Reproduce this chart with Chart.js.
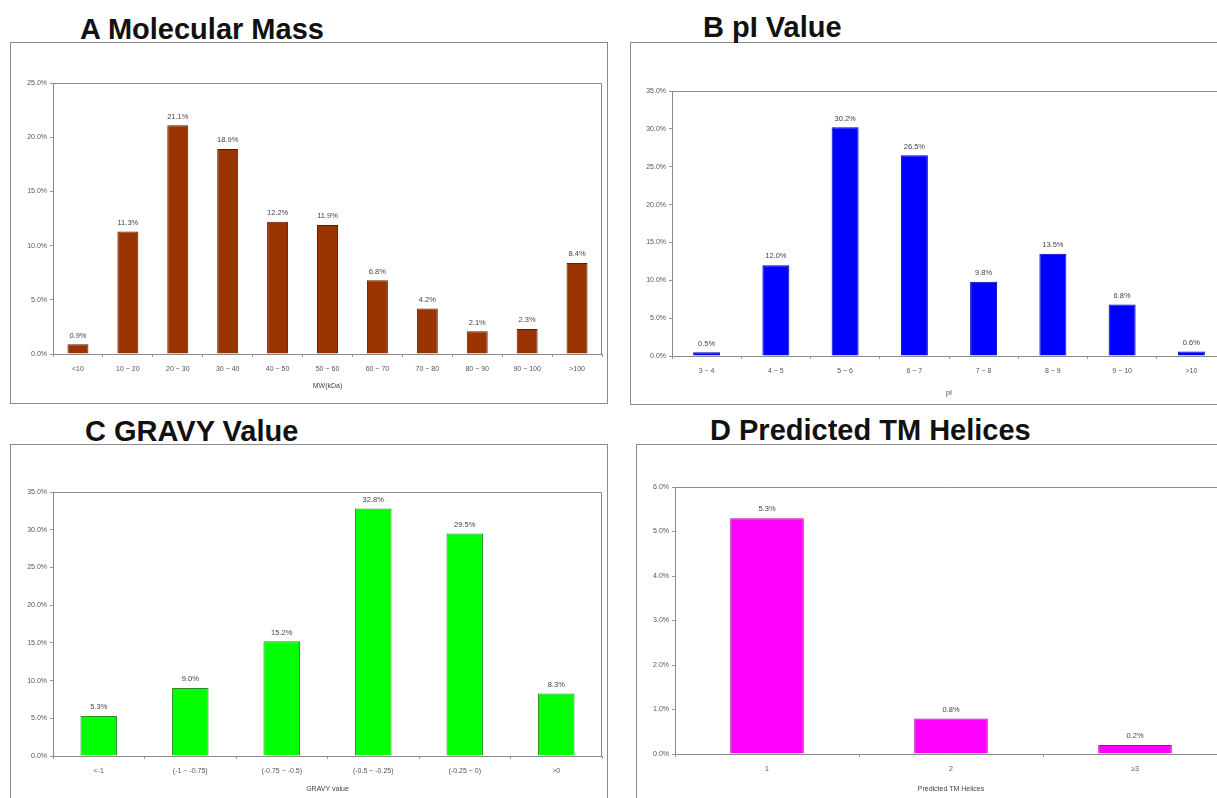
<!DOCTYPE html>
<html>
<head>
<meta charset="utf-8">
<script src="https://cdn.jsdelivr.net/npm/chart.js@4"></script>
<style>
  body { margin: 0; width: 1217px; height: 798px; overflow: hidden; background: #fff; position: relative; font-family: "Liberation Sans", Arial, sans-serif; }
  .box { position: absolute; border: 1px solid #8a8a8a; box-sizing: border-box; }
  .title { position: absolute; font-weight: bold; font-size: 29px; line-height: 30px; color: #111; white-space: nowrap; }
  .wrap { position: absolute; }
</style>
</head>
<body>

<div class="box" style="left:10px; top:42px; width:598px; height:362px;"></div>
<div class="box" style="left:630px; top:42px; width:640px; height:363px;"></div>
<div class="box" style="left:10px; top:444px; width:598px; height:400px;"></div>
<div class="box" style="left:636px; top:444px; width:640px; height:400px;"></div>

<div class="title" style="left:80px; top:14px;">A Molecular Mass</div>
<div class="title" style="left:703px; top:12px;">B pI Value</div>
<div class="title" style="left:85px; top:416px;">C GRAVY Value</div>
<div class="title" style="left:710px; top:415px;">D Predicted TM Helices</div>

<div class="wrap" id="wA"><canvas id="chartA"></canvas></div>
<div class="wrap" id="wB"><canvas id="chartB"></canvas></div>
<div class="wrap" id="wC"><canvas id="chartC"></canvas></div>
<div class="wrap" id="wD"><canvas id="chartD"></canvas></div>

<script>
// data
const massLabels = ["<10", "10 ~ 20", "20 ~ 30", "30 ~ 40", "40 ~ 50", "50 ~ 60", "60 ~ 70", "70 ~ 80", "80 ~ 90", "90 ~ 100", ">100"];
const massValues = [0.9, 11.3, 21.1, 18.9, 12.2, 11.9, 6.8, 4.2, 2.1, 2.3, 8.4];

const piLabels = ["3 ~ 4", "4 ~ 5", "5 ~ 6", "6 ~ 7", "7 ~ 8", "8 ~ 9", "9 ~ 10", ">10"];
const piValues = [0.5, 12.0, 30.2, 26.5, 9.8, 13.5, 6.8, 0.6];

const gravyLabels = ["<-1", "(-1 ~ -0.75)", "(-0.75 ~ -0.5)", "(-0.5 ~ -0.25)", "(-0.25 ~ 0)", ">0"];
const gravyValues = [5.3, 9.0, 15.2, 32.8, 29.5, 8.3];

const tmLabels = ["1", "2", "\u22653"];
const tmValues = [5.3, 0.8, 0.2];

// y axis ranges
const massAxis = [0, 25, 5];
const piAxis = [0, 35, 5];
const gravyAxis = [0, 35, 5];
const tmAxis = [0, 6, 1];

const FONT = "Liberation Sans";

const extras = {
  id: "extras",
  afterDatasetsDraw(chart) {
    const ctx = chart.ctx;
    const a = chart.chartArea;
    ctx.save();
    ctx.strokeStyle = "#8a8a8a";
    ctx.lineWidth = 1;
    ctx.beginPath();
    ctx.moveTo(a.left, a.top + 0.5);
    ctx.lineTo(a.right - 0.5, a.top + 0.5);
    ctx.lineTo(a.right - 0.5, a.bottom);
    ctx.stroke();

    ctx.fillStyle = "#444";
    ctx.font = "7.5px '" + FONT + "'";
    ctx.textAlign = "center";
    ctx.textBaseline = "bottom";
    const vals = chart.data.datasets[0].data;
    chart.getDatasetMeta(0).data.forEach(function (bar, i) {
      ctx.fillText(vals[i].toFixed(1) + "%", bar.x, bar.y - 5);
    });
    ctx.restore();
  }
};

function makePanel(id, wrapId, labels, values, axis, look, box) {
  // box: canvas rect and plot rect in page pixels
  const w = box.right - box.left, h = box.bottom - box.top;
  const wrap = document.getElementById(wrapId);
  wrap.style.left = box.left + "px";
  wrap.style.top = box.top + "px";
  wrap.style.width = w + "px";
  wrap.style.height = h + "px";

  const yWidth = box.plotLeft - box.left;
  const xHeight = box.titleY - box.plotBottom + 7;
  const padTop = box.plotTop - box.top;
  const padRight = box.right - box.plotRight;
  const padBottom = box.bottom - box.plotBottom - xHeight;

  new Chart(document.getElementById(id), {
    type: "bar",
    data: {
      labels: labels,
      datasets: [{
        data: values,
        backgroundColor: look.color,
        borderColor: look.border,
        borderWidth: 1,
        barPercentage: look.bar,
        categoryPercentage: 1
      }]
    },
    options: {
      responsive: true,
      maintainAspectRatio: false,
      animation: false,
      layout: { padding: { top: padTop, right: padRight, bottom: padBottom, left: 0 } },
      plugins: { legend: { display: false }, tooltip: { enabled: false } },
      scales: {
        x: {
          grid: { drawOnChartArea: false, drawTicks: true, tickLength: 3, color: "#999" },
          border: { color: "#8a8a8a", width: 1 },
          ticks: { color: "#555", font: { family: FONT, size: 7 }, padding: 8, maxRotation: 0, autoSkip: false },
          title: { display: true, text: look.axisTitle, color: "#444", font: { family: FONT, size: 7 }, padding: { top: 2, bottom: 2 } },
          afterFit: function (s) { s.height = xHeight; }
        },
        y: {
          min: axis[0],
          max: axis[1],
          grid: { drawOnChartArea: false, drawTicks: true, tickLength: 3, color: "#999" },
          border: { color: "#8a8a8a", width: 1 },
          ticks: {
            stepSize: axis[2],
            color: "#555",
            font: { family: FONT, size: 7 },
            padding: 3,
            callback: function (v) { return Number(v).toFixed(1) + "%"; }
          },
          afterFit: function (s) { s.width = yWidth; }
        }
      }
    },
    plugins: [extras]
  });
}

makePanel("chartA", "wA", massLabels, massValues, massAxis,
  { color: "#993300", border: "#5e1c00", bar: 0.42, axisTitle: "MW(kDa)" },
  { left: 11, top: 43, right: 607, bottom: 403, plotLeft: 53, plotTop: 83, plotRight: 602, plotBottom: 354, titleY: 385 });

makePanel("chartB", "wB", piLabels, piValues, piAxis,
  { color: "#0000ff", border: "#0000b0", bar: 0.39, axisTitle: "pI" },
  { left: 631, top: 43, right: 1251, bottom: 404, plotLeft: 672, plotTop: 91, plotRight: 1226, plotBottom: 356, titleY: 392 });

makePanel("chartC", "wC", gravyLabels, gravyValues, gravyAxis,
  { color: "#00ff00", border: "#2a8a2a", bar: 0.40, axisTitle: "GRAVY value" },
  { left: 11, top: 445, right: 607, bottom: 805, plotLeft: 53, plotTop: 492, plotRight: 602, plotBottom: 756, titleY: 788 });

makePanel("chartD", "wD", tmLabels, tmValues, tmAxis,
  { color: "#ff00ff", border: "#b000b0", bar: 0.40, axisTitle: "Predicted TM Helices" },
  { left: 637, top: 445, right: 1257, bottom: 805, plotLeft: 675, plotTop: 487, plotRight: 1227, plotBottom: 754, titleY: 788 });
</script>
</body>
</html>
